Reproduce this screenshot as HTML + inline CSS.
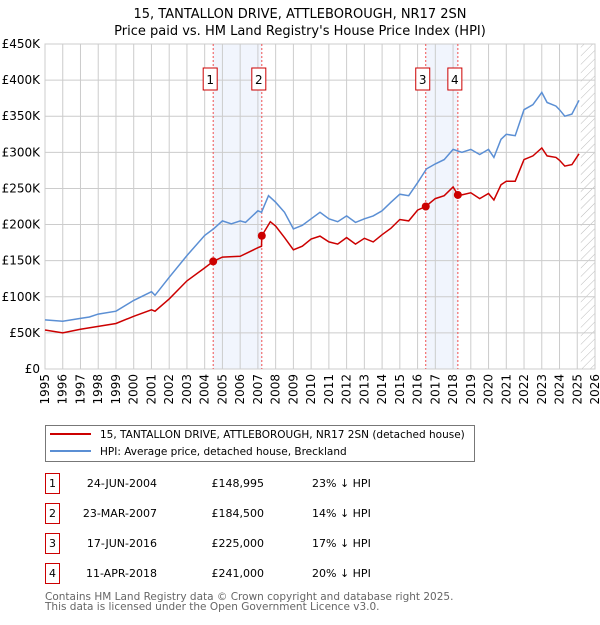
<!DOCTYPE html>
<html><head><meta charset="utf-8">
<style>
body{margin:0;background:#fff;font-family:"Liberation Sans","DejaVu Sans",sans-serif;}
#wrap{position:relative;width:600px;height:620px;}
svg text{font-family:"DejaVu Sans","Liberation Sans",sans-serif;}
</style></head>
<body>
<div id="wrap">
<svg id="chart" width="600" height="620"></svg>
</div>
<script>
const hpiYears=[1995,1996,1997,1997.5,1998,1999,2000,2001,2001.2,2002,2003,2004,2004.5,2005,2005.5,2006,2006.3,2007,2007.2,2007.6,2008,2008.5,2009,2009.5,2010,2010.5,2011,2011.5,2012,2012.5,2013,2013.5,2014,2014.5,2015,2015.5,2016,2016.5,2017,2017.5,2018,2018.5,2019,2019.5,2020,2020.3,2020.7,2021,2021.5,2022,2022.5,2023,2023.3,2023.8,2024,2024.3,2024.7,2025.1];
const hpiValues=[68,66,70,72,76,80,95,107,102,127,157,185,194,205,201,205,203,219,217,240,231,217,194,199,208,217,208,204,212,203,208,212,219,231,242,240,258,277,284,290,304,300,304,297,304,293,318,325,323,359,366,383,369,364,359,350,353,372];
const propYears=[1995,1996,1997,1998,1999,2000,2001,2001.2,2002,2003,2004,2004.48,2005,2006,2007,2007.2,2007.22,2007.7,2008,2008.5,2009,2009.5,2010,2010.5,2011,2011.5,2012,2012.5,2013,2013.5,2014,2014.5,2015,2015.5,2016,2016.46,2017,2017.5,2018,2018.27,2018.5,2019,2019.5,2020,2020.3,2020.7,2021,2021.5,2022,2022.5,2023,2023.3,2023.8,2024,2024.3,2024.7,2025.1];
const propValues=[54,50,55,59,63,73,82,80,97,122,140,149,155,156,168,170,184.5,204,198,182,165,170,180,184,176,173,182,173,181,176,186,195,207,205,220,225,236,240,252,241,241,244,236,243,234,255,260,260,290,295,306,295,293,289,281,283,298];
const saleYears=[2004.48,2007.22,2016.46,2018.27];
const saleValues=[148.995,184.5,225,241];
const yTicks=[0,50,100,150,200,250,300,350,400,450];
const yTickLabels=["£0","£50K","£100K","£150K","£200K","£250K","£300K","£350K","£400K","£450K"];
const xTicks=[1995,1996,1997,1998,1999,2000,2001,2002,2003,2004,2005,2006,2007,2008,2009,2010,2011,2012,2013,2014,2015,2016,2017,2018,2019,2020,2021,2022,2023,2024,2025,2026];

const L=45,R=595,T=44,B=369;
const X=y=>L+(y-1995)/(2026-1995)*(R-L);
const Y=v=>B-v/450*(B-T);
const svg=document.getElementById('chart');
const NS='http://www.w3.org/2000/svg';
function mk(tag,at,parent){const e=document.createElementNS(NS,tag);for(const k in at)e.setAttribute(k,at[k]);(parent||svg).appendChild(e);return e;}
function tx(s,at){const e=mk('text',at);e.textContent=s;return e;}

let t=tx('15, TANTALLON DRIVE, ATTLEBOROUGH, NR17 2SN',{x:300,y:18,'text-anchor':'middle','font-size':13,fill:'#000'});


t=tx("Price paid vs. HM Land Registry's House Price Index (HPI)",{x:300,y:35,'text-anchor':'middle','font-size':13,fill:'#000'});



for(let i=0;i<4;i+=2){
 const r=mk('rect',{x:X(saleYears[i]),y:T,width:X(saleYears[i+1])-X(saleYears[i]),height:B-T,fill:'#eef3fc',opacity:0.8});
 
 
}
const defs=mk('defs',{});
const pat=mk('pattern',{id:'hatch',width:6,height:6,patternUnits:'userSpaceOnUse',patternTransform:'rotate(45)'},defs);
mk('line',{x1:0,y1:0,x2:0,y2:6,stroke:'#bbb','stroke-width':1},pat);
const hr=mk('rect',{x:X(2025.2),y:T,width:R-X(2025.2),height:B-T,fill:'url(#hatch)'});



yTicks.forEach((v,i)=>{
 const g=mk('line',{x1:L,x2:R,y1:Y(v),y2:Y(v),stroke:'#ccc','stroke-width':1});
 
 
 const lb=tx(yTickLabels[i],{x:L-5,y:Y(v)+4,'text-anchor':'end','font-size':12,fill:'#000'});
 
 
});
xTicks.forEach(y=>{
 const g=mk('line',{x1:X(y),x2:X(y),y1:T,y2:B,stroke:'#ccc','stroke-width':1});
 
 
 const lb=tx(String(y),{x:0,y:0,'text-anchor':'end','font-size':12,fill:'#000',transform:`translate(${X(y)+4},${B+5}) rotate(-90)`});
 
 
});
const ax=mk('rect',{x:L,y:T,width:R-L,height:B-T,fill:'none',stroke:'#ccc'});



saleYears.forEach((y,i)=>{
 const l=mk('line',{x1:X(y),x2:X(y),y1:T,y2:B,stroke:'#f05050','stroke-width':1,'stroke-dasharray':'2,2'});
 
 
 const bx=mk('rect',{x:X(y)-10,y:68,width:14,height:22,fill:'#fff',stroke:'#c00','stroke-width':1});
 
 
 const lb=tx(String(i+1),{x:X(y)-3,y:84,'text-anchor':'middle','font-size':12,fill:'#000'});
 
 
});

function path(xs,vs){return xs.map((y,i)=>(i?'L':'M')+X(y).toFixed(1)+','+Y(vs[i]).toFixed(1)).join('');}
const hp=mk('path',{d:path(hpiYears,hpiValues),fill:'none',stroke:'#5b8fd4','stroke-width':1.5});


const pp=mk('path',{d:path(propYears,propValues),fill:'none',stroke:'#cc0000','stroke-width':1.5});


saleYears.forEach((y,i)=>{
 const c=mk('circle',{cx:X(y),cy:Y(saleValues[i]),r:4,fill:'#cc0000'});
 
 
});

const lg=mk('rect',{x:45.5,y:425.5,width:429,height:36,fill:'#fff',stroke:'#777'});


let ll=mk('line',{x1:50,x2:91,y1:434,y2:434,stroke:'#cc0000','stroke-width':2});


t=tx('15, TANTALLON DRIVE, ATTLEBOROUGH, NR17 2SN (detached house)',{x:100,y:438,'font-size':10.5,fill:'#000'});


ll=mk('line',{x1:50,x2:91,y1:451,y2:451,stroke:'#5b8fd4','stroke-width':2});


t=tx('HPI: Average price, detached house, Breckland',{x:100,y:455,'font-size':10.5,fill:'#000'});



const dates=['24-JUN-2004','23-MAR-2007','17-JUN-2016','11-APR-2018'];
const prices=['£148,995','£184,500','£225,000','£241,000'];
const diffs=['23% ↓ HPI','14% ↓ HPI','17% ↓ HPI','20% ↓ HPI'];
dates.forEach((d,i)=>{
 const yy=483+i*30;
 const b=mk('rect',{x:45.5,y:yy-9.5,width:14,height:20,fill:'#fff',stroke:'#c00'});
 
 
 let e=tx(String(i+1),{x:52.5,y:yy+4,'text-anchor':'middle','font-size':11,fill:'#000'});
 
 
 e=tx(d,{x:157,y:yy+4,'text-anchor':'end','font-size':11,fill:'#000'});
 
 
 e=tx(prices[i],{x:264,y:yy+4,'text-anchor':'end','font-size':11,fill:'#000'});
 
 
 e=tx(diffs[i],{x:312,y:yy+4,'font-size':11,fill:'#000'});
 
 
});
t=tx('Contains HM Land Registry data © Crown copyright and database right 2025.',{x:45,y:600,'font-size':10.5,fill:'#666'});


t=tx('This data is licensed under the Open Government Licence v3.0.',{x:45,y:610,'font-size':10.5,fill:'#666'});


</script>
</body></html>
